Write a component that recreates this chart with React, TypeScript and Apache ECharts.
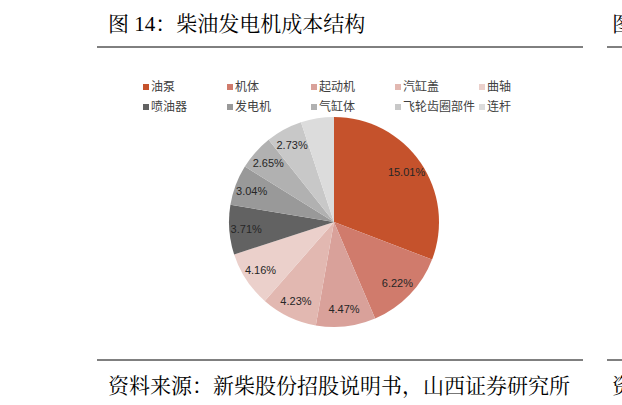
import { useEffect, useRef } from 'react';
import * as echarts from 'echarts';

// 柴油发电机成本结构（%）
const parts = ['油泵', '机体', '起动机', '汽缸盖', '曲轴', '喷油器', '发电机', '气缸体', '飞轮齿圈部件', '连杆'];
const shares = [15.01, 6.22, 4.47, 4.23, 4.16, 3.71, 3.04, 2.65, 2.73, 2.48];
const colors = ['#c5522c', '#d07b6c', '#d9a19a', '#e2b8b1', '#ebd0cb', '#626262', '#999999', '#b1b1b1', '#c8c8c8', '#dcdcdc'];

const titleText = '图 14：柴油发电机成本结构';
const sourceText = '资料来源：新柴股份招股说明书，山西证券研究所';

const serif = "'Liberation Serif', 'Noto Serif CJK SC', 'Noto Sans CJK SC', serif";
const sans = "'Liberation Sans', 'Noto Sans CJK SC', sans-serif";

const CX = 334;
const CY = 222;
const R = 105;
const legendX = [138, 222, 306, 390, 474];

export default function App() {
  const ref = useRef<HTMLDivElement>(null);

  useEffect(() => {
    if (!ref.current) return;
    const chart = echarts.init(ref.current, null, { renderer: 'svg' });
    const data = parts.map((name, i) => ({ name, value: shares[i], itemStyle: { color: colors[i] } }));

    // 图例按列排，每列两项
    const legends = legendX.map((x, col) => ({
      orient: 'vertical',
      left: x,
      top: 76,
      itemWidth: 6,
      itemHeight: 6,
      itemGap: 8,
      icon: 'rect',
      selectedMode: false,
      data: [parts[col], parts[col + 5]],
      textStyle: { fontSize: 12, color: '#404040', fontFamily: sans, padding: [0, 0, 0, -3], lineHeight: 12 },
    }));

    const option: any = {
      animation: false,
      backgroundColor: '#ffffff',
      legend: legends,
      series: [
        {
          type: 'pie',
          center: [CX, CY],
          radius: [0, R],
          startAngle: 90,
          silent: true,
          label: { show: false },
          labelLine: { show: false },
          itemStyle: { borderWidth: 0 },
          data,
        },
        {
          // 透明环，只用来把标签放到外侧
          type: 'pie',
          center: [CX, CY],
          radius: [R * 0.62, R],
          startAngle: 90,
          silent: true,
          itemStyle: { color: 'rgba(0,0,0,0)' },
          label: {
            show: true,
            position: 'inside',
            fontSize: 11,
            color: '#262626',
            fontFamily: sans,
            formatter: (p: any) => `${p.value.toFixed(2)}%`,
          },
          labelLine: { show: false },
          data: parts.map((name, i) => ({ name, value: shares[i] })),
        },
      ],
      graphic: [
        { type: 'text', left: 108, top: 13, style: { text: titleText, font: `21px ${serif}`, fill: '#000' } },
        { type: 'line', shape: { x1: 97, y1: 47, x2: 583, y2: 47 }, style: { stroke: '#000', lineWidth: 1 } },
        { type: 'line', shape: { x1: 607, y1: 47, x2: 640, y2: 47 }, style: { stroke: '#000', lineWidth: 1 } },
        { type: 'text', x: 612, y: 13, style: { text: '图 15', font: `21px ${serif}`, fill: '#000' } },
        { type: 'line', shape: { x1: 97, y1: 360, x2: 583, y2: 360 }, style: { stroke: '#000', lineWidth: 1 } },
        { type: 'line', shape: { x1: 607, y1: 360, x2: 640, y2: 360 }, style: { stroke: '#000', lineWidth: 1 } },
        { type: 'text', left: 108, top: 375, style: { text: sourceText, font: `21px ${serif}`, fill: '#000' } },
        { type: 'text', x: 612, y: 375, style: { text: '资料', font: `21px ${serif}`, fill: '#000' } },
      ],
    };
    chart.setOption(option);
    return () => chart.dispose();
  }, []);

  return <div ref={ref} style={{ position: 'fixed', left: 0, top: 0, width: 622, height: 405 }} />;
}
